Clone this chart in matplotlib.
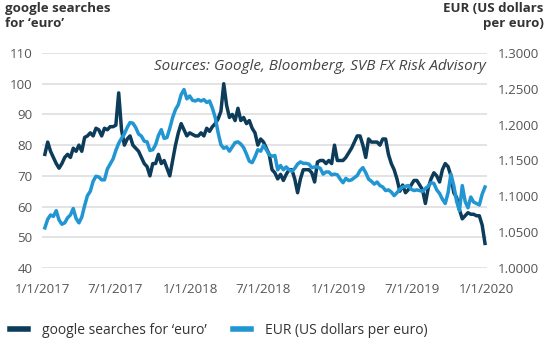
import numpy as np
import pandas as pd
import matplotlib
matplotlib.use("Agg")
import matplotlib.pyplot as plt
from matplotlib.lines import Line2D

plt.rcParams['font.family'] = ['Open Sans', 'DejaVu Sans']

# weekly google search interest for "euro" (index)
searches = [77, 81, 78, 76, 74, 72.5, 74, 76, 77, 76, 79, 78, 80, 78, 82.5, 83, 84, 83, 85.5, 85,
            83, 85.5, 85, 86, 86, 86.5, 97, 85, 80, 82, 83, 80, 79, 78, 76, 74, 73, 70, 74, 74,
            77, 74, 75, 72.5, 70, 75, 80, 84, 87, 85, 83, 84, 83.5, 83, 83, 84, 83, 85.5, 84.5, 86,
            87, 88.5, 91, 100, 93, 89, 90, 88, 92, 88, 89, 87, 88, 85.5, 84, 80, 82, 81, 79, 77,
            72, 71, 69, 70.5, 68.5, 70.5, 72, 72, 69, 64.5, 69, 72, 72, 72, 71, 68, 74.5, 75, 75, 74,
            75, 74, 80, 75, 75, 75, 76, 77.5, 79, 81, 83, 83, 80, 76, 82, 81, 81, 81, 80, 82,
            82, 77, 74, 72, 69, 65, 67, 64.5, 65.5, 67, 68.5, 68.5, 67, 65.5, 61, 66, 69, 71, 70, 68,
            72, 74, 73, 70, 64.5, 63, 59, 56, 57, 58, 57.5, 57.5, 57, 57, 54, 48]

# EUR/USD, weekly
eurusd = [1.056, 1.068, 1.074, 1.072, 1.080, 1.067, 1.061, 1.063, 1.070, 1.074,
          1.083, 1.069, 1.063, 1.071, 1.087, 1.101, 1.107, 1.121, 1.128, 1.127,
          1.123, 1.123, 1.138, 1.145, 1.152, 1.164, 1.174, 1.181, 1.187, 1.196,
          1.203, 1.202, 1.196, 1.187, 1.184, 1.177, 1.176, 1.164, 1.165, 1.172,
          1.185, 1.193, 1.181, 1.182, 1.195, 1.210, 1.221, 1.228, 1.242, 1.249,
          1.236, 1.240, 1.234, 1.233, 1.235, 1.233, 1.235, 1.231, 1.233, 1.223,
          1.210, 1.189, 1.172, 1.167, 1.169, 1.163, 1.169, 1.175, 1.176, 1.173,
          1.168, 1.159, 1.149, 1.147, 1.155, 1.165, 1.163, 1.171, 1.165, 1.158,
          1.156, 1.157, 1.137, 1.143, 1.137, 1.141, 1.137, 1.135, 1.139, 1.145,
          1.148, 1.146, 1.146, 1.145, 1.140, 1.141, 1.141, 1.139, 1.131, 1.134,
          1.134, 1.130, 1.131, 1.130, 1.124, 1.119, 1.125, 1.122, 1.123, 1.126,
          1.129, 1.136, 1.140, 1.133, 1.124, 1.121, 1.117, 1.120, 1.115, 1.113,
          1.108, 1.109, 1.106, 1.101, 1.105, 1.110, 1.113, 1.114, 1.115, 1.110,
          1.108, 1.109, 1.108, 1.107, 1.111, 1.114, 1.119, 1.118, 1.109, 1.104,
          1.096, 1.090, 1.105, 1.131, 1.115, 1.093, 1.080, 1.115, 1.093, 1.084,
          1.099, 1.092, 1.090, 1.088, 1.103, 1.113]

weeks = pd.date_range("2017-01-08", periods=len(searches), freq="7D")
tick_dates = pd.to_datetime(["2017-01-01", "2017-07-01", "2018-01-01", "2018-07-01",
                             "2019-01-01", "2019-07-01", "2020-01-01"])
tick_labels = ["1/1/2017", "7/1/2017", "1/1/2018", "7/1/2018", "1/1/2019", "7/1/2019", "1/1/2020"]
left_ticks = [40, 50, 60, 70, 80, 90, 100, 110]
right_ticks = [1.00, 1.05, 1.10, 1.15, 1.20, 1.25, 1.30]

dark = "#0d3b5a"
light = "#2196d3"
grey = "#555555"

fig = plt.figure(figsize=(5.5, 3.45), dpi=100)
ax = fig.add_axes([0.0764, 0.2232, 0.8091, 0.6232])
ax2 = ax.twinx()

ax.plot(weeks, searches, color=dark, lw=2.5, solid_joinstyle="round")
ax2.plot(weeks, eurusd, color=light, lw=2.5, solid_joinstyle="round")

ax.set_xlim(pd.Timestamp("2017-01-01"), pd.Timestamp("2020-01-03"))
ax.set_ylim(40, 110)
ax2.set_ylim(1.0, 1.3)
ax.set_yticks(left_ticks)
ax2.set_yticks(right_ticks)
ax2.set_yticklabels(["%.4f" % v for v in right_ticks])
ax.set_xticks(tick_dates)
ax.set_xticklabels(tick_labels)

ax.grid(axis="y", color="#e3e3e3", lw=1.4)
ax.set_axisbelow(True)
for a in (ax, ax2):
    for s in a.spines.values():
        s.set_visible(False)
    a.tick_params(length=0, labelsize=9.6, colors=grey)
ax.tick_params(axis="y", pad=7)
ax2.tick_params(axis="y", pad=8)
ax.tick_params(axis="x", pad=11)

fig.text(0.009, 0.995, "google searches\nfor ‘euro’", ha="left", va="top",
         fontsize=9.5, fontweight="bold", color="#333333", linespacing=1.2)
fig.text(0.988, 0.995, "EUR (US dollars\nper euro)", ha="right", va="top",
         fontsize=9.5, fontweight="bold", color="#333333", linespacing=1.2)
ax.text(0.998, 0.935, "Sources: Google, Bloomberg, SVB FX Risk Advisory", transform=ax.transAxes,
        ha="right", va="center", fontsize=11, style="italic", color="#444444")

handles = [Line2D([], [], color=dark, lw=4), Line2D([], [], color=light, lw=4)]
fig.legend(handles, ["google searches for ‘euro’", "EUR (US dollars per euro)"],
           loc="lower left", bbox_to_anchor=(-0.005, -0.015), ncol=2, frameon=False,
           fontsize=10, handlelength=1.3, handletextpad=1.0, columnspacing=1.9,
           labelcolor="#333333")

fig.savefig("out.png", dpi=100)
